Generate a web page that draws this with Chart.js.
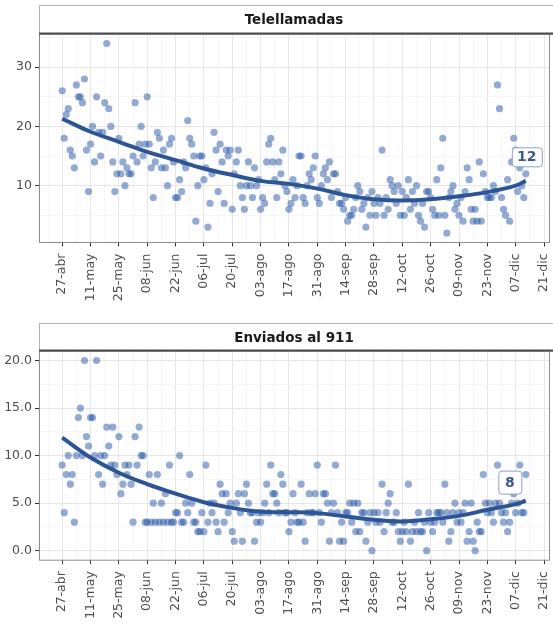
<!DOCTYPE html>
<html>
<head>
<meta charset="utf-8">
<script src="https://cdn.jsdelivr.net/npm/chart.js@4.4.0/dist/chart.umd.min.js"></script>
<style>
  html, body { margin: 0; padding: 0; background: #fff; }
  #wrap { position: relative; width: 553px; height: 627px; overflow: hidden; }
  .panel { position: absolute; left: 0; width: 553px; }
  #p1 { top: 0; height: 310px; }
  #p2 { top: 310px; height: 317px; }
</style>
</head>
<body>
<div id="wrap">
  <div class="panel" id="p1"><canvas id="chartTop" width="553" height="310"></canvas></div>
  <div class="panel" id="p2"><canvas id="chartBottom" width="553" height="317"></canvas></div>
</div>
<script>
/* --------------------------------------------
   DATA (one value per day, starting 27-abr)
--------------------------------------------- */
const tickLabels = ["27-abr", "11-may", "25-may", "08-jun", "22-jun", "06-jul", "20-jul", "03-ago",
  "17-ago", "31-ago", "14-sep", "28-sep", "12-oct", "26-oct", "09-nov", "23-nov", "07-dic", "21-dic"];

const telellamadas = [
  26, 18, 22, 23, 16, 15, 13, 27, 25, 25,
  24, 28, 16, 9, 17, 20, 14, 25, 19, 15,
  19, 24, 34, 23, 20, 14, 9, 12, 18, 12,
  14, 10, 13, 12, 12, 15, 24, 14, 17, 20,
  15, 17, 25, 17, 13, 8, 14, 19, 18, 13,
  16, 13, 10, 17, 18, 14, 8, 8, 11, 9,
  14, 13, 21, 18, 17, 15, 4, 10, 15, 15,
  11, 13, 3, 7, 12, 19, 16, 9, 17, 14,
  7, 16, 15, 16, 6, 12, 14, 16, 10, 8,
  6, 10, 14, 10, 8, 13, 10, 11, 6, 8,
  7, 14, 17, 18, 14, 11, 8, 14, 12, 16,
  10, 9, 6, 7, 11, 8, 10, 15, 15, 8,
  7, 10, 12, 11, 13, 15, 8, 7, 10, 12,
  13, 11, 14, 8, 12, 12, 9, 7, 7, 6,
  8, 4, 5, 5, 6, 8, 10, 9, 6, 7,
  3, 8, 5, 9, 7, 5, 8, 7, 16, 5,
  8, 6, 11, 10, 9, 7, 10, 5, 9, 5,
  8, 11, 6, 9, 7, 10, 5, 4, 7, 3,
  9, 9, 8, 6, 5, 11, 5, 13, 18, 5,
  2, 8, 9, 10, 6, 7, 5, 8, 4, 9,
  13, 11, 6, 4, 6, 4, 14, 4, 12, 9,
  8, 8, 8, 10, 9, 27, 23, 8, 6, 5,
  11, 4, 14, 18, 16, 9, 13, 10, 8, 12
];

const enviados911 = [
  9, 4, 8, 10, 7, 8, 3, 10, 14, 15,
  10, 20, 12, 11, 14, 14, 10, 20, 8, 10,
  7, 10, 13, 11, 9, 13, 9, 8, 12, 6,
  7, 9, 8, 9, 7, 3, 12, 9, 13, 10,
  10, 3, 3, 8, 3, 5, 3, 8, 3, 5,
  3, 6, 3, 9, 3, 3, 4, 4, 10, 3,
  3, 5, 4, 8, 5, 3, 3, 2, 2, 4,
  2, 9, 3, 5, 4, 5, 3, 2, 7, 6,
  3, 6, 4, 5, 2, 1, 5, 6, 4, 1,
  6, 7, 5, 4, 4, 1, 3, 4, 3, 4,
  5, 7, 4, 9, 6, 6, 5, 4, 8, 7,
  4, 4, 2, 3, 6, 4, 3, 3, 7, 3,
  1, 4, 6, 4, 4, 6, 9, 4, 3, 6,
  6, 5, 1, 4, 5, 9, 4, 1, 3, 1,
  4, 4, 5, 3, 5, 2, 5, 2, 4, 4,
  1, 3, 4, 0, 4, 3, 4, 3, 7, 2,
  4, 5, 6, 3, 3, 4, 2, 1, 2, 3,
  2, 7, 1, 2, 3, 2, 4, 2, 2, 3,
  0, 4, 3, 2, 3, 4, 4, 4, 3, 7,
  4, 1, 2, 4, 5, 3, 4, 3, 4, 5,
  1, 2, 5, 1, 0, 3, 2, 2, 8, 5,
  4, 5, 4, 3, 5, 9, 5, 4, 3, 4,
  2, 3, 5, 6, 4, 5, 9, 4, 4, 8
];

// smoothed trend at these day offsets
const trendDays = [0, 14, 28, 42, 56, 70, 84, 98, 112, 126, 140, 154, 168, 182, 196, 210, 224, 229];
const trendTelellamadas = [21.3, 19.1, 17.4, 15.7, 14.3, 12.9, 11.8, 10.8, 10.3, 9.5, 8.4, 7.7, 7.5, 7.7, 8.2, 8.9, 10.0, 10.8];
const trendEnviados = [11.9, 9.8, 8.2, 7.0, 6.0, 5.1, 4.5, 4.1, 4.05, 3.95, 3.6, 3.25, 3.07, 3.3, 3.66, 4.3, 4.9, 5.25];

/* --------------------------------------------
   STYLE
--------------------------------------------- */
const FONT = '"DejaVu Sans", "Liberation Sans", sans-serif';
const POINT_COLOR = "rgba(40, 88, 168, 0.5)";
const LINE_COLOR = "#2d5595";

/* --------------------------------------------
   PANEL DECORATION PLUGIN (strip, border, end label)
--------------------------------------------- */
function panelDecor(title, stripTop, values, label) {
  return {
    id: "panelDecor",
    beforeDraw(chart) {
      const { ctx, chartArea: a } = chart;
      ctx.save();
      ctx.fillStyle = "#fff";
      ctx.fillRect(0, 0, chart.width, chart.height);
      // strip
      ctx.strokeStyle = "#b3b3b3";
      ctx.lineWidth = 1;
      ctx.strokeRect(a.left + 0.5, stripTop + 0.5, chart.width - a.left, a.top - stripTop);
      ctx.fillStyle = "#1a1a1a";
      ctx.font = "bold 13.5px " + FONT;
      ctx.textAlign = "center";
      ctx.textBaseline = "middle";
      ctx.fillText(title, (a.left + a.right) / 2, (stripTop + a.top) / 2 + 1);
      ctx.restore();
    },
    afterDatasetsDraw(chart) {
      const { ctx, chartArea: a, scales } = chart;
      ctx.save();
      // panel border
      ctx.strokeStyle = "#8c8c8c";
      ctx.lineWidth = 1;
      ctx.strokeRect(a.left + 0.5, a.top, a.right - a.left, a.bottom - a.top);
      // strip bottom line
      ctx.strokeStyle = "#4d4d4d";
      ctx.lineWidth = 2;
      ctx.beginPath();
      ctx.moveTo(a.left, a.top - 0.5);
      ctx.lineTo(chart.width, a.top - 0.5);
      ctx.stroke();

      // last value label
      const last = values.length - 1;
      const px = scales.x.getPixelForValue(last) + label.dx;
      const py = scales.y.getPixelForValue(values[last]) + label.dy;
      const w = label.w, h = label.h;
      ctx.beginPath();
      if (ctx.roundRect) ctx.roundRect(px - w / 2 + 0.5, py - h / 2 + 0.5, w, h, 3);
      else ctx.rect(px - w / 2 + 0.5, py - h / 2 + 0.5, w, h);
      ctx.fillStyle = "rgba(255,255,255,0.95)";
      ctx.fill();
      ctx.strokeStyle = "#8fa3c4";
      ctx.lineWidth = 1;
      ctx.stroke();
      ctx.fillStyle = "#3b5a8a";
      ctx.font = "bold 14px " + FONT;
      ctx.textAlign = "center";
      ctx.textBaseline = "middle";
      ctx.fillText(String(values[last]), px, py + 1);
      ctx.restore();
    }
  };
}

/* --------------------------------------------
   BUILD ONE FACET
--------------------------------------------- */
function buildPanel(canvasId, opts) {
  const points = opts.values.map((v, i) => ({ x: i, y: v }));
  const trend = trendDays.map((d, i) => ({ x: d, y: opts.trend[i] }));

  const xTicks = [];
  for (let d = -7; d <= 238; d += 7) xTicks.push({ value: d });

  return new Chart(document.getElementById(canvasId), {
    type: "scatter",
    data: {
      datasets: [
        {
          type: "line",
          data: trend,
          borderColor: LINE_COLOR,
          borderWidth: 4,
          pointRadius: 0,
          tension: 0.4,
          fill: false
        },
        {
          data: points,
          backgroundColor: POINT_COLOR,
          borderWidth: 0,
          pointRadius: 3.6
        }
      ]
    },
    options: {
      responsive: false,
      animation: false,
      events: [],
      layout: { padding: { top: opts.areaTop, left: 0, right: 0, bottom: 0 } },
      plugins: { legend: { display: false }, tooltip: { enabled: false } },
      scales: {
        x: {
          type: "linear",
          min: -11.45,
          max: 240.45,
          border: { display: false },
          afterBuildTicks(s) { s.ticks = xTicks.map(t => ({ value: t.value })); },
          afterFit(s) { s.height = opts.xHeight; s.paddingLeft = 0; s.paddingRight = 0; },
          grid: {
            color: c => (c.tick && c.tick.value % 14 === 0 ? "#e6e6e6" : "#f2f2f2"),
            lineWidth: c => (c.tick && c.tick.value % 14 === 0 ? 1 : 0.7),
            tickColor: c => (c.tick && c.tick.value % 14 === 0 ? "#333333" : "rgba(0,0,0,0)"),
            tickLength: 4,
            tickWidth: 1
          },
          ticks: {
            autoSkip: false,
            maxRotation: 90,
            minRotation: 90,
            padding: 7,
            color: "#4d4d4d",
            font: { family: FONT, size: 12.5 },
            callback: v => (v >= 0 && v % 14 === 0 ? tickLabels[v / 14] : "")
          }
        },
        y: {
          min: opts.yMin,
          max: opts.yMax,
          border: { display: false },
          afterBuildTicks(s) { s.ticks = opts.yTicks.map(v => ({ value: v })); },
          afterFit(s) { s.width = 39; s.paddingTop = 0; s.paddingBottom = 0; },
          grid: {
            color: c => (c.tick && opts.isMajor(c.tick.value) ? "#e6e6e6" : "#f2f2f2"),
            lineWidth: c => (c.tick && opts.isMajor(c.tick.value) ? 1 : 0.7),
            tickColor: c => (c.tick && opts.isMajor(c.tick.value) ? "#333333" : "rgba(0,0,0,0)"),
            tickLength: 4,
            tickWidth: 1
          },
          ticks: {
            padding: 3,
            color: "#4d4d4d",
            font: { family: FONT, size: 12.5 },
            callback: v => (opts.isMajor(v) ? opts.fmt(v) : "")
          }
        }
      }
    },
    plugins: [panelDecor(opts.title, opts.stripTop, opts.values, opts.label)]
  });
}

/* --------------------------------------------
   INIT
--------------------------------------------- */
buildPanel("chartTop", {
  title: "Telellamadas",
  values: telellamadas,
  trend: trendTelellamadas,
  stripTop: 5,
  areaTop: 34,
  xHeight: 67.5,
  yMin: 0.4,
  yMax: 35.6,
  yTicks: [5, 10, 15, 20, 25, 30, 35],
  isMajor: v => v % 10 === 0,
  fmt: v => String(v),
  label: { dx: 1, dy: -17, w: 30, h: 19 }
});

buildPanel("chartBottom", {
  title: "Enviados al 911",
  values: enviados911,
  trend: trendEnviados,
  stripTop: 13,
  areaTop: 41,
  xHeight: 66.8,
  yMin: -1,
  yMax: 21,
  yTicks: [0, 2.5, 5, 7.5, 10, 12.5, 15, 17.5, 20],
  isMajor: v => v % 5 === 0,
  fmt: v => v.toFixed(1),
  label: { dx: -16, dy: 7.5, w: 23, h: 23 }
});
</script>
</body>
</html>
